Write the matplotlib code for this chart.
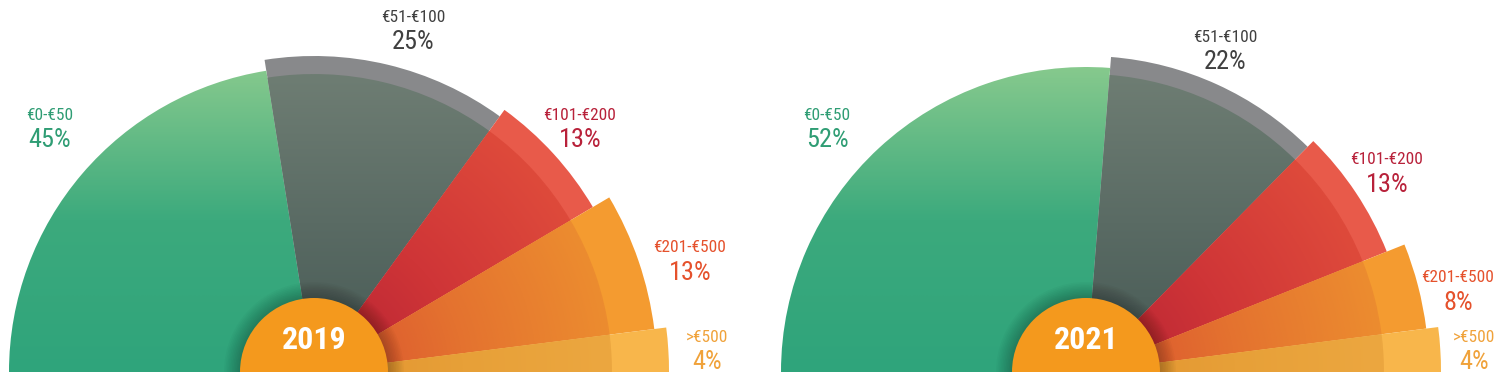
import numpy as np
import matplotlib
matplotlib.use("Agg")
import matplotlib.pyplot as plt
from matplotlib.patches import Wedge
from matplotlib.colors import LinearSegmentedColormap

# data
bands = ["€0-€50", "€51-€100", "€101-€200", "€201-€500", ">€500"]
years = ["2019", "2021"]
share_2019 = [45, 25, 13, 13, 4]
share_2021 = [52, 22, 13, 8, 4]

# style
W, H = 1500, 383
base = 372
inner_r = 298
outer_r = [305, 316, 324, 343, 355]
rim_colors = [None, "#88898b", "#e85a4a", "#f49b30", "#f8b64b"]
grads = [
    ("v", ["#2fa47b", "#3caa7d", "#86c98d"]),
    ("v", ["#465954", "#5a6b64", "#6e7d73"]),
    ("r", ["#b52234", "#cf3537", "#de4a3b"]),
    ("r", ["#d9502f", "#e4722f", "#ec8c2f"]),
    ("r", ["#e2932f", "#e7a038", "#eca740"]),
]
text_colors = ["#2f9d74", "#404040", "#b8213a", "#e5512c", "#f0a23a"]

plt.rcParams['font.family'] = ['Roboto Condensed', 'Roboto', 'DejaVu Sans']

fig = plt.figure(figsize=(W / 100, H / 100), dpi=100)
ax = fig.add_axes([0, 0, 1, 1])
ax.axis("off")


def y(v):
    return H - v


def gradient_wedge(cx, cy, r, t1, t2, mode, colors, z):
    patch = Wedge((cx, cy), r, t1, t2, fc="none", ec="none")
    ax.add_patch(patch)
    n = 300
    xs = np.linspace(cx - r, cx + r, n)
    ys = np.linspace(cy, cy + r, n)
    X, Y = np.meshgrid(xs, ys)
    if mode == "v":
        t = (Y - cy) / r
    else:
        t = np.hypot(X - cx, Y - cy) / inner_r
    cmap = LinearSegmentedColormap.from_list("g", colors)
    im = ax.imshow(np.clip(t, 0, 1), cmap=cmap, vmin=0, vmax=1, origin="lower",
                   extent=(cx - r, cx + r, cy, cy + r), interpolation="bilinear", zorder=z)
    im.set_clip_path(patch)


def draw_half(cx, shares, year):
    cy = y(base)
    total = sum(shares)
    start = 180.0
    for i, v in enumerate(shares):
        span = v / total * 180.0
        t2 = start
        t1 = start - span
        start = t1
        if rim_colors[i] is not None:
            ax.add_patch(Wedge((cx, cy), outer_r[i], t1, t2, fc=rim_colors[i], ec="none", zorder=2))
            gradient_wedge(cx, cy, inner_r, t1, t2, grads[i][0], grads[i][1], 3)
        else:
            gradient_wedge(cx, cy, outer_r[i], t1, t2, grads[i][0], grads[i][1], 3)
    # soft shadow around the centre disc
    for k in range(10):
        ax.add_patch(Wedge((cx, cy), 74 + 16 * (1 - k / 10), 0, 180, fc="black",
                           ec="none", alpha=0.025, zorder=4))
    ax.add_patch(Wedge((cx, cy), 74, 0, 180, fc="#f4991d", ec="none", zorder=5))
    ax.text(cx, y(340), year, color="white", fontsize=23, fontweight="bold",
            ha="center", va="center", zorder=6)


draw_half(314, share_2019, years[0])
draw_half(1086, share_2021, years[1])

label_pos_2019 = [(50, 115), (413, 17), (580, 115), (690, 248), (707, 337)]
label_pos_2021 = [(827, 115), (1225, 37), (1387, 160), (1458, 278), (1474, 337)]
for pos, shares in [(label_pos_2019, share_2019), (label_pos_2021, share_2021)]:
    for i, (lx, ly) in enumerate(pos):
        ax.text(lx, y(ly), bands[i], color=text_colors[i], fontsize=12.5,
                ha="center", va="center")
        ax.text(lx, y(ly + 25), f"{shares[i]}%", color=text_colors[i], fontsize=19,
                ha="center", va="center")

ax.set_xlim(0, W)
ax.set_ylim(0, H)
ax.set_aspect("auto")
fig.savefig("out.png", dpi=100, facecolor="white")
